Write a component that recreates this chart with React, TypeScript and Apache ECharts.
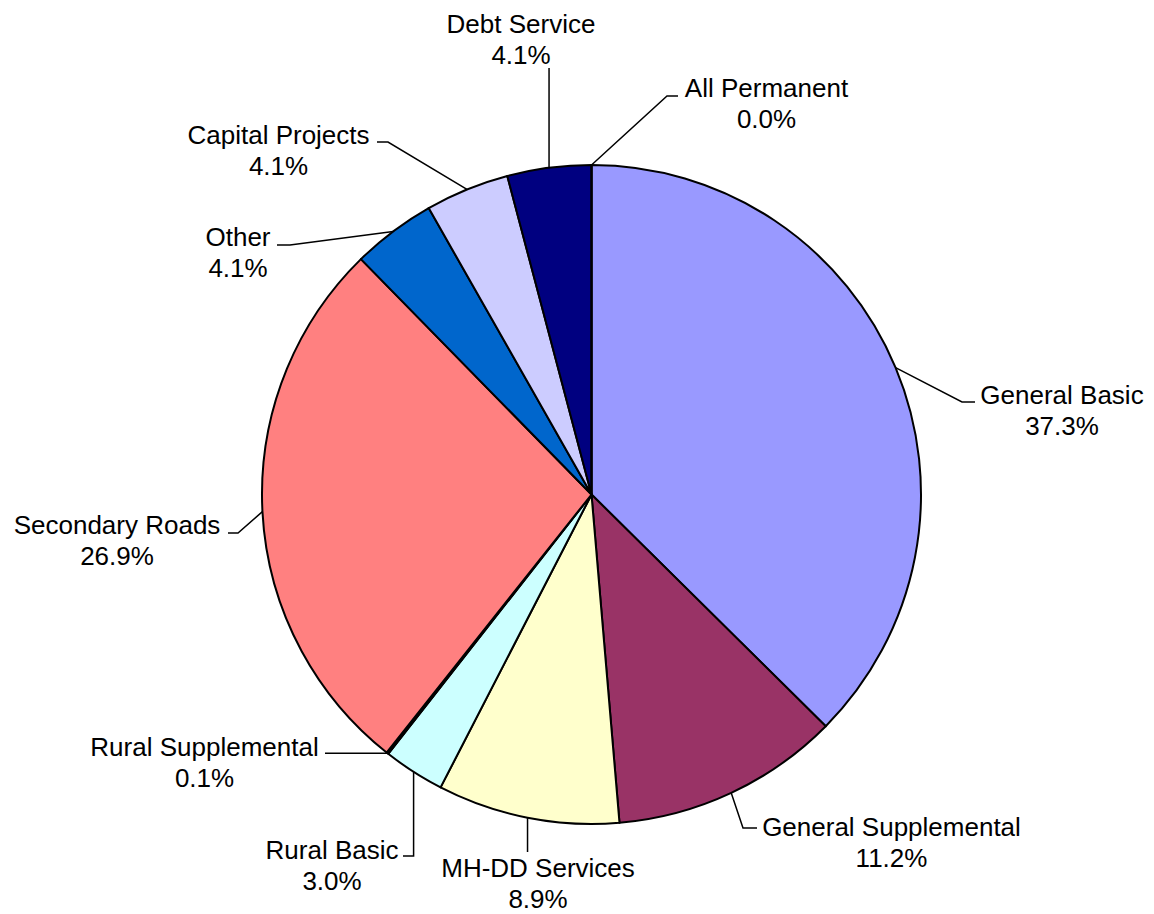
import React, { useEffect, useRef } from "react";
import * as echarts from "echarts";

// ---- data ----
const categories = [
  "General Basic",
  "General Supplemental",
  "MH-DD Services",
  "Rural Basic",
  "Rural Supplemental",
  "Secondary Roads",
  "Other",
  "Capital Projects",
  "Debt Service",
  "All Permanent",
];
const shares = [37.3, 11.2, 8.9, 3.0, 0.1, 26.9, 4.1, 4.1, 4.1, 0.0];

// ---- styles / layout ----
const sliceColors = [
  "#9999FF",
  "#993366",
  "#FFFFCC",
  "#CCFFFF",
  "#660066",
  "#FF8080",
  "#0066CC",
  "#CCCCFF",
  "#000080",
  "#FF00FF",
];
// label block centres (px)
const labelCenters: number[][] = [
  [1062, 410],
  [891.5, 842.5],
  [538, 883],
  [332, 865],
  [204.5, 762],
  [117, 540],
  [238, 252],
  [278.5, 150],
  [521, 39],
  [766.5, 103],
];
// leader-line bend points after the slice edge point (null = keep start coordinate)
const leaderBends: (number | null)[][][] = [
  [[962, 402], [975, 402]],
  [[743, 828], [757, 828]],
  [[null, 852]],
  [[null, 856], [403, 856]],
  [[325, null]],
  [[238, 533], [228, 533]],
  [[290, 245], [277, 245]],
  [[388, 142], [377, 142]],
  [[null, 68]],
  [[667, 96], [678, 96]],
];

const CX = 591.5;
const CY = 494.5;
const R = 329.5;

function edgePoint(idx: number): number[] {
  const total = shares.reduce((a, b) => a + b, 0);
  let before = 0;
  for (let i = 0; i < idx; i++) before += shares[i];
  const mid = ((before + shares[idx] / 2) / total) * Math.PI * 2;
  return [CX + R * Math.sin(mid), CY - R * Math.cos(mid)];
}

export default function App() {
  const ref = useRef<HTMLDivElement>(null);
  useEffect(() => {
    if (!ref.current) return;
    const chart = echarts.init(ref.current, null, { renderer: "svg" });
    chart.setOption({
      animation: false,
      backgroundColor: "#ffffff",
      series: [
        {
          type: "pie",
          center: [CX, CY],
          radius: R,
          startAngle: 90,
          clockwise: true,
          avoidLabelOverlap: false,
          silent: true,
          emphasis: { disabled: true },
          itemStyle: { borderColor: "#000000", borderWidth: 2 },
          data: categories.map((name, i) => ({
            name,
            value: shares[i],
            itemStyle: { color: sliceColors[i] },
          })),
          label: {
            show: true,
            position: "outside",
            formatter: (p: any) => `${p.name}\n${Number(p.value).toFixed(1)}%`,
            fontFamily: "'Liberation Sans', Arial, sans-serif",
            fontSize: 26,
            lineHeight: 31,
            color: "#000000",
            align: "center",
          },
          labelLine: {
            show: true,
            lineStyle: { color: "#000000", width: 1.5 },
          },
          labelLayout: (params: any) => {
            const i = params.dataIndex;
            const pts = params.labelLinePoints;
            const start =
              pts && pts[0] && isFinite(pts[0][0]) ? [pts[0][0], pts[0][1]] : edgePoint(i);
            const line = [start];
            leaderBends[i].forEach((b) => {
              line.push([b[0] == null ? start[0] : b[0], b[1] == null ? start[1] : b[1]]);
            });
            return {
              x: labelCenters[i][0],
              y: labelCenters[i][1],
              align: "center",
              verticalAlign: "middle",
              labelLinePoints: line,
            };
          },
        },
      ],
    });
    return () => chart.dispose();
  }, []);
  return (
    <div
      ref={ref}
      style={{ position: "absolute", left: 0, top: 0, width: 1154, height: 914, background: "#fff" }}
    />
  );
}
